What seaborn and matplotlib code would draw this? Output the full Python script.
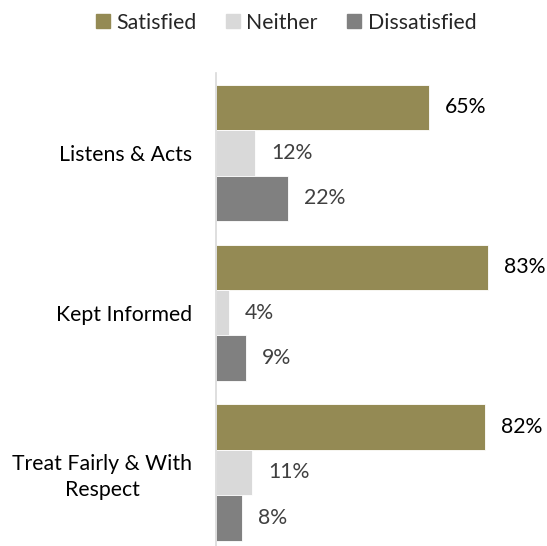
import matplotlib
matplotlib.use("Agg")
import matplotlib.pyplot as plt
import seaborn as sns
import pandas as pd

# Survey results (percent of respondents)
categories = ["Listens & Acts", "Kept Informed", "Treat Fairly & With\nRespect"]
responses = ["Satisfied", "Neither", "Dissatisfied"]
satisfied = [65, 83, 82]
neither = [12, 4, 11]
dissatisfied = [22, 9, 8]

colors = {"Satisfied": "#948A54", "Neither": "#D9D9D9", "Dissatisfied": "#808080"}
label_colors = {"Satisfied": "#000000", "Neither": "#404040", "Dissatisfied": "#404040"}

rows = []
for series_name, values in zip(responses, [satisfied, neither, dissatisfied]):
    for cat, v in zip(categories, values):
        rows.append({"Category": cat, "Response": series_name, "Percent": v})
df = pd.DataFrame(rows)

sns.set_theme(style="white")
plt.rcParams["font.family"] = ["Lato", "DejaVu Sans"]
FS = 15.3

fig = plt.figure(figsize=(5.47, 5.46), dpi=100)
ax = fig.add_axes([216 / 547, 0.0, 331 / 547, 1 - 73 / 546])

sns.barplot(
    data=df, y="Category", x="Percent", hue="Response",
    order=categories, hue_order=responses, palette=colors, saturation=1,
    orient="h", width=0.853, edgecolor="white", linewidth=0.6,
    errorbar=None, legend=False, ax=ax,
)

for container, name in zip(ax.containers, responses):
    ax.bar_label(container, labels=[f"{v:.0f}%" for v in container.datavalues],
                 padding=11.5, fontsize=FS, color=label_colors[name])

ax.set_xlim(0, 331 / 3.28)
ax.set_ylim(2.46, -0.5)
ax.set_xlabel("")
ax.set_ylabel("")
ax.set_xticks([])
ax.tick_params(axis="y", length=0, pad=17, labelsize=FS, labelcolor="#000000")
for lbl in ax.get_yticklabels():
    lbl.set_multialignment("center")
    lbl.set_linespacing(1.35)

for side in ["top", "right", "bottom"]:
    ax.spines[side].set_visible(False)
ax.spines["left"].set_color("#D9D9D9")
ax.spines["left"].set_linewidth(1.2)

handles = [plt.Rectangle((0, 0), 1, 1, color=colors[r]) for r in responses]
fig.legend(handles, responses, loc="center", bbox_to_anchor=(0.523, 1 - 22.6 / 546),
           ncol=3, frameon=False, fontsize=FS, handlelength=0.65, handleheight=0.65,
           handletextpad=0.3, columnspacing=1.4)

fig.savefig("out.png", dpi=100)
